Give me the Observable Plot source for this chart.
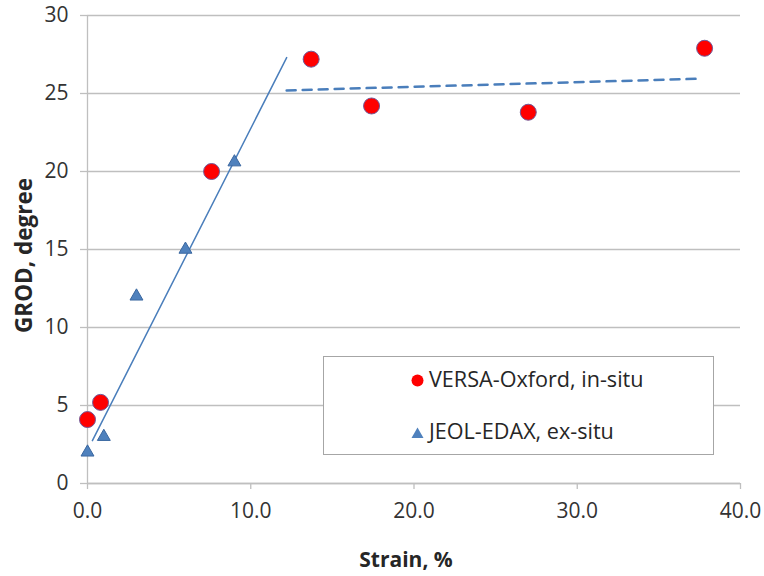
<!DOCTYPE html>
<html>
<head>
<meta charset="utf-8">
<script src="https://cdn.jsdelivr.net/npm/d3@7"></script>
<script src="https://cdn.jsdelivr.net/npm/@observablehq/plot@0.6"></script>
<style>
  html, body { margin: 0; padding: 0; background: #fff; }
  #wrap { position: relative; width: 764px; height: 576px; font-family: "Open Sans", sans-serif; }
  #legend {
    position: absolute; left: 323px; top: 356px; width: 391px; height: 99px;
    border: 1px solid #a6a6a6; background: #fff; box-sizing: border-box;
    font-family: "Open Sans", sans-serif; font-size: 21.6px; color: #262626;
  }
  .item { position: absolute; left: 87px; display: flex; align-items: center; white-space: nowrap; line-height: 26px; }
  .item svg { margin-right: 5px; margin-top: 3px; }
</style>
</head>
<body>
<div id="wrap"></div>
<script>
// Data
const versaStrain = [0, 0.8, 7.6, 13.7, 17.4, 27.0, 37.8];
const versaGROD   = [4.1, 5.2, 20.0, 27.2, 24.2, 23.8, 27.9];
const jeolStrain  = [0, 1.0, 3.0, 6.0, 9.0];
const jeolGROD    = [2.0, 3.0, 12.0, 15.0, 20.6];
const fitStrain   = [0.3, 12.2];
const fitGROD     = [2.75, 27.3];
const plateauStrain = [12.2, 37.6];
const plateauGROD   = [25.2, 25.95];
const xTicks = [0, 10, 20, 30, 40];
const yTicks = [0, 5, 10, 15, 20, 25, 30];
const seriesNames = ["VERSA-Oxford, in-situ", "JEOL-EDAX, ex-situ"];
const xTitle = "Strain, %";
const yTitle = "GROD, degree";

const versa = versaStrain.map((x, i) => ({x, y: versaGROD[i]}));
const jeol = jeolStrain.map((x, i) => ({x, y: jeolGROD[i]}));
const fit = fitStrain.map((x, i) => ({x, y: fitGROD[i]}));
const plateau = plateauStrain.map((x, i) => ({x, y: plateauGROD[i]}));

const gridColor = "#bfbfbf";
const textColor = "#333333";

const chart = Plot.plot({
  width: 764,
  height: 576,
  marginLeft: 87,
  marginRight: 24,
  marginTop: 15,
  marginBottom: 93,
  style: {fontFamily: "Open Sans, sans-serif", fontSize: "21px", color: textColor, background: "#fff"},
  x: {domain: [0, 40]},
  y: {domain: [0, 30]},
  marks: [
    Plot.gridY(yTicks, {stroke: gridColor, strokeOpacity: 1, strokeWidth: 1.3}),
    Plot.axisY(yTicks, {tickSize: 7, tickPadding: 12, stroke: gridColor, strokeWidth: 1.3, label: null, fontSize: 21, fill: textColor}),
    Plot.axisX(xTicks, {tickSize: 6, tickPadding: 14, stroke: gridColor, strokeWidth: 1.3, tickFormat: d3.format(".1f"), label: null, fontSize: 21, fill: textColor}),
    Plot.text([xTitle], {frameAnchor: "bottom", textAnchor: "middle", lineAnchor: "middle", dx: -8, dy: 77, fontSize: 21, fontWeight: "bold", fill: "#262626"}),
    Plot.text([yTitle], {frameAnchor: "left", textAnchor: "middle", lineAnchor: "middle", rotate: -90, dx: -63, dy: 6, fontSize: 22.5, fontWeight: "bold", fill: "#262626"}),
    Plot.ruleX([0], {stroke: gridColor, strokeWidth: 1.3}),
    Plot.ruleY([0], {stroke: gridColor, strokeWidth: 1.3}),
    Plot.line(fit, {x: "x", y: "y", stroke: "#4a7ebb", strokeWidth: 1.5}),
    Plot.line(plateau, {x: "x", y: "y", stroke: "#4a7ebb", strokeWidth: 2.5, strokeDasharray: "9,7"}),
    Plot.dot(jeol, {x: "x", y: "y", symbol: "triangle", r: 4.8, fill: "#4f81bd", stroke: "#3a67a0", strokeWidth: 1}),
    Plot.dot(versa, {x: "x", y: "y", r: 8, fill: "#ff0000", stroke: "#6f5a9a", strokeWidth: 1})
  ]
});

const wrap = document.getElementById("wrap");
wrap.appendChild(chart);

const legend = document.createElement("div");
legend.id = "legend";
legend.innerHTML = `
  <div class="item" style="top:9px"><svg width="13" height="13"><circle cx="6.5" cy="6.5" r="6" fill="#ff0000"/></svg><span>${seriesNames[0]}</span></div>
  <div class="item" style="top:61px"><svg width="13" height="13"><path d="M6.5,1.5 L12.5,12 L0.5,12 Z" fill="#4f81bd"/></svg><span>${seriesNames[1]}</span></div>`;
wrap.appendChild(legend);
</script>
</body>
</html>
